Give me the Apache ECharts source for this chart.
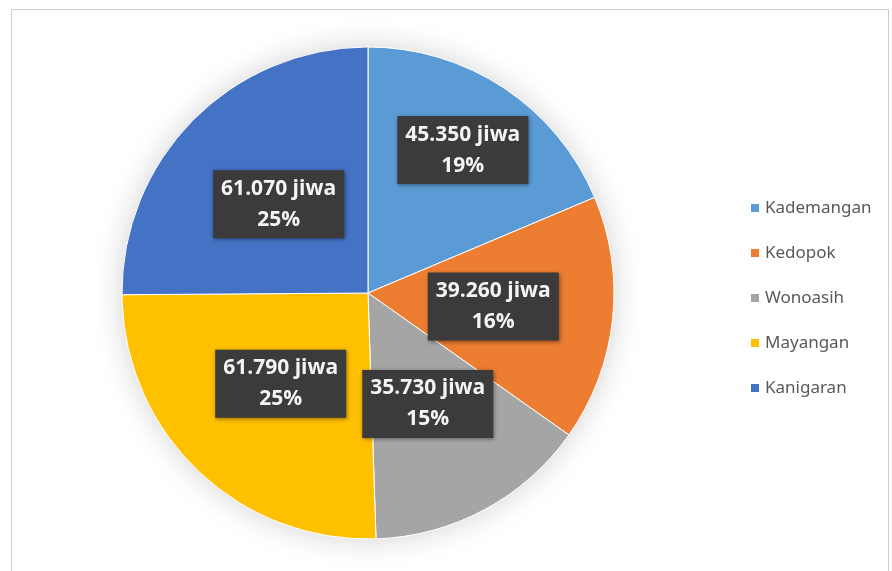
<!DOCTYPE html>
<html>
<head>
<meta charset="utf-8">
<script src="https://cdn.jsdelivr.net/npm/echarts@6/dist/echarts.min.js"></script>
<style>
html,body{margin:0;padding:0;background:#fff;}
#chart{width:892px;height:571px;}
</style>
</head>
<body>
<div id="chart"></div>
<script>
var categories = ['Kademangan', 'Kedopok', 'Wonoasih', 'Mayangan', 'Kanigaran'];
var values = [45350, 39260, 35730, 61790, 61070];
var colors = ['#5B9BD5', '#ED7D31', '#A5A5A5', '#FFC000', '#4472C4'];
var unit = 'jiwa';

function fmtNum(v) {
  return String(v).replace(/\B(?=(\d{3})+(?!\d))/g, '.');
}

var R = 246;
var center = [368, 293];

var labelStyle = {
  position: 'inside',
  formatter: function (p) { return fmtNum(p.value) + ' ' + unit + '\n' + Math.round(p.percent) + '%'; },
  color: '#f4f4f4',
  fontFamily: 'Open Sans',
  fontWeight: 'bold',
  fontSize: 21,
  lineHeight: 31,
  backgroundColor: '#3b3b3b',
  padding: [3, 8, 3, 8],
  shadowColor: 'rgba(0,0,0,0.45)',
  shadowBlur: 4,
  shadowOffsetX: 1,
  shadowOffsetY: 1
};

var mainData = categories.map(function (c, i) {
  var d = { name: c, value: values[i], itemStyle: { color: colors[i] } };
  if (i === 0) d.label = { show: false };
  return d;
});
var overlayData = categories.map(function (c, i) {
  var d = { name: c, value: values[i], label: { show: i === 0 } };
  return d;
});

var chart = echarts.init(document.getElementById('chart'), null, { renderer: 'canvas' });
chart.setOption({
  backgroundColor: '#ffffff',
  animation: false,
  graphic: [{
    type: 'rect',
    shape: { x: 11.5, y: 9.5, width: 877, height: 620 },
    style: { fill: 'none', stroke: '#cfcfcf', lineWidth: 1 },
    silent: true,
    z: -10
  }],
  legend: {
    orient: 'vertical',
    left: 744,
    top: 193,
    data: categories,
    icon: 'rect',
    itemWidth: 10,
    itemHeight: 10,
    itemGap: 25,
    textStyle: { color: '#595959', fontFamily: 'Noto Sans', fontSize: 17, lineHeight: 20 },
    selectedMode: false
  },
  series: [
    {
      type: 'pie',
      name: 'shadow',
      center: center,
      radius: R,
      silent: true,
      z: 1,
      label: { show: false },
      itemStyle: { color: '#ffffff', shadowBlur: 30, shadowColor: 'rgba(0,0,0,0.18)' },
      emphasis: { disabled: true },
      data: [{ value: 1, name: '' }]
    },
    {
      type: 'pie',
      name: 'main',
      center: center,
      radius: R,
      startAngle: 90,
      clockwise: true,
      z: 2,
      itemStyle: { borderColor: '#ffffff', borderWidth: 1 },
      label: labelStyle,
      labelLine: { show: false },
      emphasis: { disabled: true },
      data: mainData
    },
    {
      type: 'pie',
      name: 'overlay',
      center: center,
      radius: [R * 0.37, R],
      startAngle: 90,
      clockwise: true,
      z: 3,
      silent: true,
      itemStyle: { color: 'rgba(0,0,0,0)' },
      label: Object.assign({}, labelStyle, { show: false }),
      labelLine: { show: false },
      emphasis: { disabled: true },
      data: overlayData
    }
  ]
});
</script>
</body>
</html>
